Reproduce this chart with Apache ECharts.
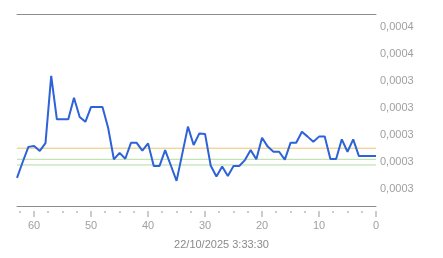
<!DOCTYPE html>
<html><head><meta charset="utf-8">
<script src="https://cdn.jsdelivr.net/npm/echarts@6/dist/echarts.min.js"></script>
<style>html,body{margin:0;padding:0;background:#fff}#c{width:443px;height:258px}</style>
</head><body><div id="c"></div>
<script>
// seconds ago (x) and values
var secondsAgo = [63,62,61,60,59,58,57,56,55,54,53,52,51,50,49,48,47,46,45,44,43,42,41,40,39,38,37,36,35,34,33,32,31,30,29,28,27,26,25,24,23,22,21,20,19,18,17,16,15,14,13,12,11,10,9,8,7,6,5,4,3,2,1,0];
var values = [0.0003041,0.0003100,0.0003156,0.0003159,0.0003141,0.0003170,0.0003419,0.0003258,0.0003258,0.0003258,
  0.0003338,0.0003267,0.0003249,0.0003304,0.0003304,0.0003304,0.0003226,0.0003110,0.0003134,0.0003112,
  0.0003171,0.0003171,0.0003142,0.0003169,0.0003085,0.0003085,0.0003144,0.0003087,0.0003030,0.0003130,
  0.0003231,0.0003163,0.0003206,0.0003204,0.0003086,0.0003046,0.0003083,0.0003048,0.0003085,0.0003085,
  0.0003107,0.0003144,0.0003110,0.0003190,0.0003157,0.0003138,0.0003138,0.0003109,0.0003171,0.0003171,
  0.0003212,0.0003194,0.0003175,0.0003194,0.0003194,0.0003111,0.0003111,0.0003184,0.0003138,0.0003184,
  0.0003122,0.0003122,0.0003122,0.0003122];
var yTickLabels = ['0,0003','0,0003','0,0003','0,0003','0,0003','0,0004','0,0004'];
var xMajorTicks = [60,50,40,30,20,10,0];
var xMinorTicks = [62.5,57.5,55,52.5,47.5,45,42.5,37.5,35,32.5,27.5,25,22.5,17.5,15,12.5,7.5,5,2.5];
var yellowLevel = 0.0003151;
var greenLevels = [0.0003110, 0.0003089];
var timestamp = '22/10/2025 3:33:30';

// x axis runs from -63 (63 s ago) to 0 (now); labels show seconds ago
var xMin = -63, yMin = 0.0003, yMax = 0.00036, yStep = 0.00001;
var data = secondsAgo.map(function(s, i){ return [-s, values[i]]; });
var xFirst = -secondsAgo[0], xLast = -secondsAgo[secondsAgo.length - 1];
function levelSeries(v, color){
  return {type:'line', xAxisIndex:0, yAxisIndex:0, data:[[xFirst, v],[xLast, v]], showSymbol:false, symbol:'none', silent:true,
    lineStyle:{color:color, width:1}, itemStyle:{color:color}, z:2};
}
function tickSeries(ticks, len){
  return {type:'custom', xAxisIndex:0, yAxisIndex:0, silent:true, clip:false, z:4,
    data: ticks.map(function(t){ return [-t]; }),
    encode:{x:0},
    renderItem:function(params, api){
      var p = api.coord([api.value(0), yMin]);
      return {type:'rect', shape:{x:Math.round(p[0]) - 0.5, y:p[1] + 22, width:1, height:len}, style:{fill:'#9a9a9a'}};
    }};
}
var font = 'Liberation Sans, Arial, sans-serif';
var H = 258;
var plotLeft = 17, plotRight = 67, plotTop = 27, plotBottom = 69;
var plotW = 443 - plotLeft - plotRight;
var pxPerSec = plotW / (0 - xMin);
var labelTop = 211;
var majorMin = -xMajorTicks[0];
var chart = echarts.init(document.getElementById('c'), null, {renderer:'canvas'});
var series = [levelSeries(yellowLevel, '#e9c66c')]
  .concat(greenLevels.map(function(v){ return levelSeries(v, '#b4dca2'); }));
series.push({type:'line', xAxisIndex:0, yAxisIndex:0, data:data, showSymbol:false, symbol:'none',
    lineStyle:{color:'#2d62d8', width:2}, itemStyle:{color:'#2d62d8'}, z:3});
series.push(tickSeries(xMinorTicks, 2));
series.push(tickSeries(xMajorTicks, 6));
chart.setOption({
  animation:false,
  title:{text: timestamp, left: 'center', top: 234, textStyle:{fontFamily:font, fontSize:11, fontWeight:'normal', color:'#8a8a8a'}},
  grid:[
    {left:plotLeft, right:plotRight, top:plotTop, bottom:plotBottom},
    {left:plotLeft + (majorMin - xMin) * pxPerSec, right:plotRight, top:labelTop, bottom:H - labelTop - 6}
  ],
  xAxis:[
    {gridIndex:0, type:'value', min:xMin, max:0, position:'bottom', offset:17,
     axisLine:{show:true, onZero:false, lineStyle:{color:'#8c8c8c', width:1}},
     axisTick:{show:false}, axisLabel:{show:false}, splitLine:{show:false}},
    {gridIndex:0, type:'value', min:xMin, max:0, position:'top', offset:13,
     axisLine:{show:true, onZero:false, lineStyle:{color:'#8c8c8c', width:1}}, axisTick:{show:false}, axisLabel:{show:false}, splitLine:{show:false}},
    {gridIndex:1, type:'value', min:majorMin, max:0, interval:10, position:'bottom',
     axisLine:{show:false, onZero:false}, axisTick:{show:false},
     axisLabel:{show:true, margin:3, color:'#a0a0a0', fontSize:11, fontFamily:font,
       formatter:function(v){ return String(Math.abs(v)); }},
     splitLine:{show:false}}
  ],
  yAxis:[
    {gridIndex:0, type:'value', position:'right', min:yMin, max:yMax, interval:yStep,
     axisLine:{show:false}, axisTick:{show:false}, splitLine:{show:false},
     axisLabel:{margin:4, color:'#a0a0a0', fontSize:11, fontFamily:font, formatter:function(v, i){ return yTickLabels[i]; }}},
    {gridIndex:1, type:'value', show:false, splitLine:{show:false}}
  ],
  series: series
});
</script></body></html>
